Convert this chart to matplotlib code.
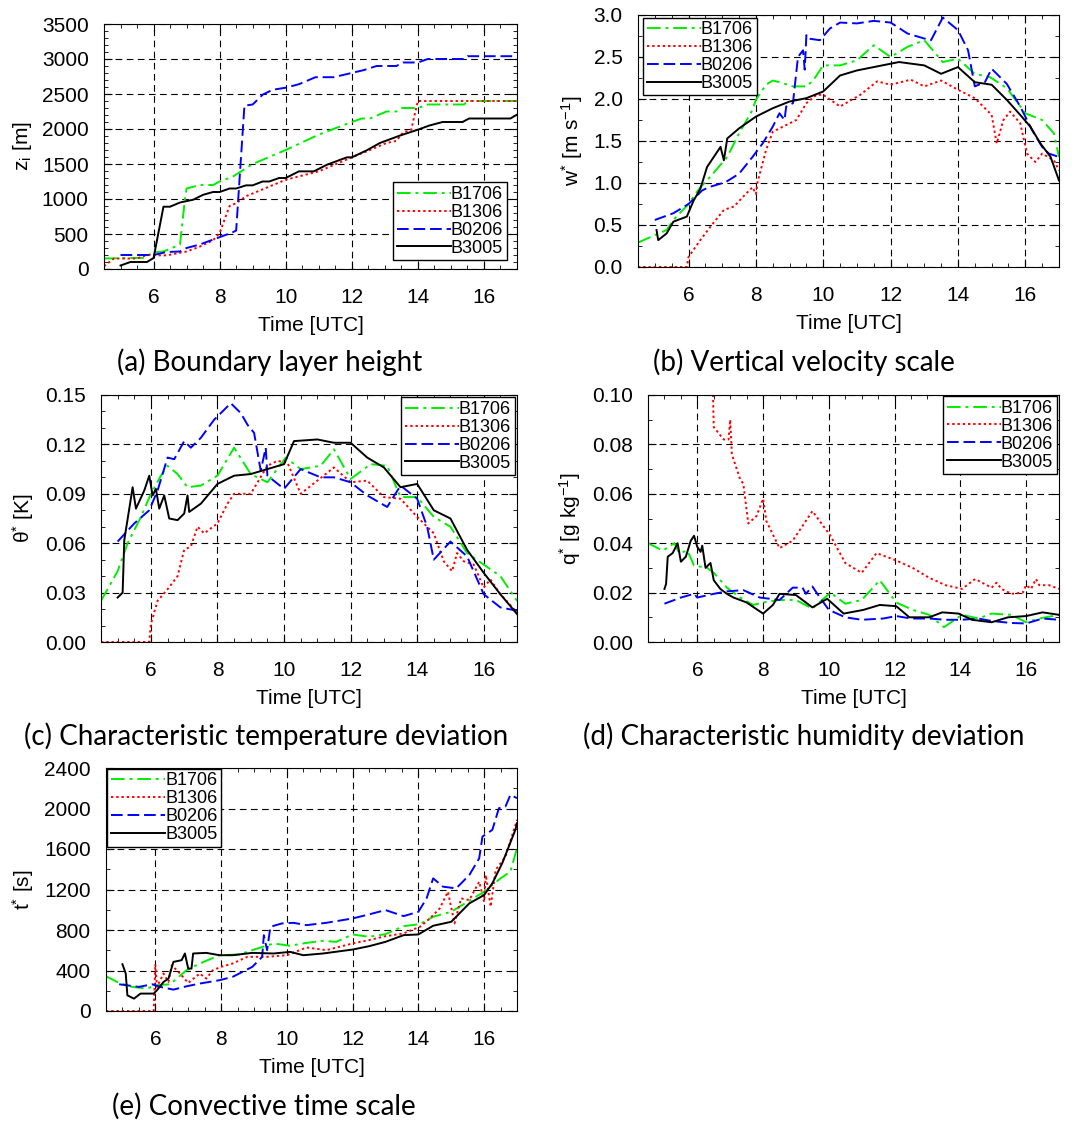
import matplotlib
matplotlib.use('Agg')
import matplotlib.pyplot as plt
from matplotlib.ticker import MultipleLocator, FormatStrFormatter

plt.rcParams['font.family'] = ['Liberation Sans', 'DejaVu Sans']
plt.rcParams['mathtext.default'] = 'regular'

# ---- (a) boundary layer height z_i [m]
zi_b1706_t = [4.5, 5.7, 6.0, 6.3, 6.55, 6.8, 6.95, 7.0, 7.4, 7.8, 8.0, 8.4, 8.8, 9.0, 10.0, 11.0, 12.0, 12.3, 12.55, 13.05, 13.35, 13.5, 14.0, 14.3, 15.4, 15.5, 17.0]
zi_b1706 = [150, 160, 240, 250, 300, 350, 1000, 1150, 1200, 1200, 1250, 1320, 1440, 1500, 1700, 1920, 2100, 2150, 2150, 2250, 2250, 2300, 2300, 2350, 2350, 2400, 2400]
zi_b1306_t = [4.5, 4.8, 5.5, 5.8, 6.0, 6.4, 7.0, 7.4, 7.8, 8.0, 8.3, 8.5, 8.8, 10.0, 11.0, 12.0, 12.45, 13.05, 13.35, 13.55, 13.8, 13.9, 14.0, 17.0]
zi_b1306 = [40, 150, 150, 200, 195, 195, 250, 320, 410, 515, 900, 940, 1040, 1275, 1395, 1595, 1680, 1800, 1830, 1950, 1990, 2200, 2400, 2400]
zi_b0206_t = [5.0, 6.0, 6.4, 6.8, 7.0, 7.4, 7.8, 8.4, 8.5, 8.75, 9.0, 9.3, 9.6, 10.0, 10.4, 10.9, 11.45, 11.9, 12.35, 12.75, 13.35, 13.55, 14.0, 14.3, 15.4, 15.5, 17.0]
zi_b0206 = [200, 200, 243, 250, 300, 350, 420, 525, 550, 2333, 2350, 2490, 2560, 2590, 2640, 2740, 2740, 2790, 2840, 2900, 2900, 2950, 2950, 3000, 3000, 3040, 3040]
zi_b3005_t = [5.0, 5.3, 5.8, 6.0, 6.3, 6.5, 6.8, 7.2, 7.5, 7.8, 8.0, 8.3, 8.5, 8.8, 9.0, 9.3, 9.5, 9.8, 10.0, 10.4, 10.85, 11.25, 11.85, 12.0, 12.45, 12.85, 13.45, 14.0, 14.35, 14.75, 15.35, 15.55, 16.8, 17.0]
zi_b3005 = [50, 100, 100, 157, 890, 890, 950, 990, 1060, 1100, 1100, 1150, 1150, 1195, 1195, 1250, 1250, 1300, 1300, 1395, 1395, 1490, 1595, 1595, 1695, 1800, 1905, 1990, 2050, 2100, 2100, 2150, 2150, 2205]

# ---- (b) vertical velocity scale w* [m s-1]
w_b1706_t = [4.5, 5.0, 5.35, 5.55, 6.0, 6.35, 6.55, 7.15, 7.5, 7.9, 8.0, 8.3, 8.5, 8.7, 9.1, 9.5, 9.7, 10.0, 10.5, 11.0, 11.5, 12.0, 12.5, 13.0, 13.55, 14.0, 14.5, 14.95, 15.45, 16.0, 16.5, 16.85, 17.0]
w_b1706 = [0.29, 0.38, 0.44, 0.56, 0.75, 0.95, 1.03, 1.31, 1.59, 1.87, 1.99, 2.17, 2.22, 2.20, 2.15, 2.15, 2.22, 2.40, 2.40, 2.46, 2.64, 2.50, 2.62, 2.70, 2.44, 2.48, 2.30, 2.26, 2.13, 1.83, 1.75, 1.59, 1.31]
w_b1306_t = [4.5, 5.95, 6.0, 6.35, 6.65, 7.05, 7.35, 7.7, 7.9, 8.0, 8.05, 8.3, 8.5, 8.9, 9.2, 9.5, 9.8, 10.0, 10.5, 11.1, 11.6, 12.0, 12.6, 13.0, 13.5, 14.0, 14.5, 15.0, 15.15, 15.35, 15.55, 15.85, 16.05, 16.3, 16.5, 16.85, 17.0]
w_b1306 = [0.0, 0.0, 0.12, 0.32, 0.48, 0.68, 0.72, 0.87, 0.95, 0.87, 1.01, 1.39, 1.61, 1.69, 1.75, 1.95, 2.05, 2.05, 1.91, 2.05, 2.21, 2.17, 2.23, 2.15, 2.22, 2.11, 2.01, 1.81, 1.47, 1.75, 1.85, 1.71, 1.35, 1.25, 1.35, 1.27, 1.15]
w_b0206_t = [5.0, 5.55, 6.0, 6.4, 6.6, 7.1, 7.5, 7.9, 8.2, 8.5, 8.7, 8.85, 8.9, 9.1, 9.25, 9.4, 9.45, 9.5, 9.55, 9.9, 10.2, 10.5, 11.0, 11.5, 12.0, 12.5, 13.0, 13.2, 13.55, 14.0, 14.3, 14.5, 14.8, 15.0, 15.45, 15.85, 16.2, 16.5, 16.7, 17.0]
w_b0206 = [0.56, 0.64, 0.75, 0.91, 0.95, 1.01, 1.11, 1.31, 1.47, 1.67, 1.83, 1.75, 1.91, 1.95, 2.50, 2.58, 2.35, 2.76, 2.72, 2.70, 2.84, 2.91, 2.90, 2.93, 2.91, 2.78, 2.72, 2.70, 2.97, 2.82, 2.58, 2.15, 2.20, 2.36, 2.18, 1.91, 1.63, 1.43, 1.35, 1.31]
w_b3005_t = [5.05, 5.1, 5.35, 5.55, 5.95, 6.15, 6.35, 6.55, 6.75, 6.95, 7.05, 7.15, 7.5, 8.0, 8.5, 9.0, 9.5, 10.0, 10.5, 11.0, 11.5, 12.0, 12.25, 13.0, 13.5, 14.0, 14.5, 15.0, 15.45, 15.85, 16.15, 16.45, 16.75, 17.0]
w_b3005 = [0.44, 0.32, 0.40, 0.54, 0.60, 0.79, 0.93, 1.19, 1.31, 1.43, 1.27, 1.53, 1.65, 1.79, 1.89, 1.97, 2.01, 2.09, 2.28, 2.34, 2.38, 2.42, 2.44, 2.40, 2.30, 2.38, 2.20, 2.17, 1.99, 1.81, 1.67, 1.47, 1.31, 1.03]

# ---- (c) characteristic temperature deviation theta* [K]
th_b1706_t = [4.5, 5.0, 5.3, 5.7, 6.0, 6.3, 6.5, 6.8, 7.1, 7.5, 8.0, 8.5, 9.0, 9.5, 10.05, 10.5, 11.1, 11.5, 12.0, 12.6, 13.1, 13.5, 14.0, 14.5, 15.0, 15.5, 16.0, 16.5, 16.8, 17.0]
th_b1706 = [0.025, 0.043, 0.060, 0.076, 0.090, 0.101, 0.107, 0.102, 0.094, 0.095, 0.101, 0.118, 0.102, 0.097, 0.112, 0.105, 0.107, 0.117, 0.099, 0.108, 0.107, 0.088, 0.088, 0.076, 0.070, 0.054, 0.047, 0.040, 0.031, 0.025]
th_b1306_t = [4.5, 5.95, 6.0, 6.2, 6.5, 6.8, 7.0, 7.2, 7.4, 7.6, 8.0, 8.3, 8.5, 9.0, 9.5, 9.8, 10.1, 10.5, 11.0, 11.5, 12.0, 12.5, 13.0, 13.5, 14.0, 14.5, 14.8, 15.05, 15.2, 15.4, 15.7, 16.0, 16.2, 16.5, 17.0]
th_b1306 = [0.0, 0.0, 0.011, 0.025, 0.032, 0.040, 0.056, 0.058, 0.070, 0.066, 0.072, 0.084, 0.090, 0.090, 0.107, 0.110, 0.109, 0.090, 0.098, 0.106, 0.097, 0.098, 0.088, 0.087, 0.076, 0.066, 0.049, 0.043, 0.054, 0.049, 0.047, 0.033, 0.038, 0.029, 0.018]
th_b0206_t = [5.0, 5.5, 5.95, 6.2, 6.5, 6.7, 7.0, 7.2, 7.5, 7.9, 8.4, 8.7, 8.9, 9.1, 9.3, 9.45, 9.5, 10.0, 10.5, 11.1, 11.5, 12.0, 12.5, 13.1, 13.5, 14.0, 14.3, 14.5, 15.0, 15.5, 16.0, 16.5, 17.0]
th_b0206 = [0.061, 0.072, 0.080, 0.092, 0.112, 0.111, 0.122, 0.118, 0.124, 0.135, 0.145, 0.139, 0.132, 0.127, 0.104, 0.118, 0.101, 0.093, 0.105, 0.100, 0.100, 0.097, 0.089, 0.082, 0.095, 0.087, 0.070, 0.050, 0.061, 0.052, 0.029, 0.021, 0.019]
th_b3005_t = [5.0, 5.15, 5.2, 5.35, 5.45, 5.55, 5.8, 5.95, 6.05, 6.15, 6.25, 6.4, 6.55, 6.8, 7.0, 7.1, 7.15, 7.5, 8.0, 8.5, 9.0, 9.5, 10.0, 10.3, 11.0, 11.5, 12.0, 12.5, 13.0, 13.5, 14.0, 14.5, 15.0, 15.5, 16.0, 16.5, 17.0]
th_b3005 = [0.027, 0.030, 0.062, 0.081, 0.094, 0.081, 0.092, 0.101, 0.089, 0.093, 0.081, 0.089, 0.075, 0.074, 0.078, 0.089, 0.079, 0.084, 0.096, 0.101, 0.102, 0.105, 0.108, 0.122, 0.123, 0.121, 0.121, 0.112, 0.106, 0.094, 0.096, 0.080, 0.075, 0.056, 0.042, 0.029, 0.017]

# ---- (d) characteristic humidity deviation q* [g kg-1]
q_b1706_t = [4.5, 4.95, 5.3, 5.45, 5.7, 5.9, 6.3, 6.5, 6.9, 7.3, 7.7, 8.0, 8.5, 9.0, 9.5, 10.05, 10.5, 11.0, 11.55, 12.05, 12.55, 13.05, 13.5, 14.05, 14.55, 14.95, 15.55, 16.0, 16.4, 17.0]
q_b1706 = [0.040, 0.037, 0.040, 0.036, 0.037, 0.031, 0.030, 0.028, 0.022, 0.018, 0.015, 0.016, 0.017, 0.017, 0.0135, 0.020, 0.0155, 0.017, 0.025, 0.016, 0.013, 0.011, 0.006, 0.011, 0.0095, 0.0115, 0.011, 0.008, 0.0095, 0.011]
q_b1306_t = [6.45, 6.5, 6.8, 6.95, 7.0, 7.05, 7.3, 7.4, 7.55, 7.8, 8.0, 8.1, 8.5, 8.9, 9.5, 10.05, 10.5, 11.0, 11.45, 12.05, 12.55, 13.05, 13.55, 14.05, 14.45, 14.95, 15.1, 15.25, 15.55, 15.9, 16.0, 16.15, 16.3, 16.4, 16.7, 17.0]
q_b1306 = [0.115, 0.087, 0.082, 0.082, 0.090, 0.076, 0.066, 0.064, 0.048, 0.051, 0.058, 0.049, 0.038, 0.041, 0.053, 0.043, 0.032, 0.028, 0.036, 0.033, 0.030, 0.026, 0.023, 0.0215, 0.0255, 0.022, 0.024, 0.0215, 0.0195, 0.020, 0.023, 0.0215, 0.0255, 0.023, 0.023, 0.0215]
q_b0206_t = [5.0, 5.5, 5.9, 6.0, 6.5, 6.9, 7.4, 7.9, 8.5, 8.9, 9.2, 9.3, 9.5, 9.65, 10.0, 10.5, 11.0, 11.65, 12.05, 12.5, 13.05, 13.55, 14.05, 14.55, 14.95, 15.55, 16.0, 16.5, 17.0]
q_b0206 = [0.0155, 0.018, 0.0195, 0.018, 0.0195, 0.0205, 0.021, 0.018, 0.017, 0.022, 0.022, 0.0195, 0.0225, 0.0195, 0.013, 0.010, 0.009, 0.0095, 0.0105, 0.0095, 0.0095, 0.009, 0.009, 0.0095, 0.0085, 0.0077, 0.0075, 0.0095, 0.009]
q_b3005_t = [5.0, 5.05, 5.1, 5.25, 5.4, 5.5, 5.65, 5.8, 5.9, 6.0, 6.1, 6.15, 6.25, 6.4, 6.5, 6.7, 6.9, 7.1, 7.5, 8.0, 8.3, 8.5, 9.0, 9.5, 9.95, 10.45, 11.05, 11.55, 12.05, 12.45, 13.05, 13.45, 13.95, 14.35, 14.95, 15.45, 16.0, 16.5, 17.0]
q_b3005 = [0.0215, 0.0235, 0.0345, 0.036, 0.040, 0.0325, 0.0345, 0.041, 0.043, 0.0385, 0.0365, 0.039, 0.030, 0.032, 0.025, 0.0215, 0.0195, 0.018, 0.016, 0.0115, 0.015, 0.0195, 0.019, 0.014, 0.0175, 0.0115, 0.013, 0.015, 0.0145, 0.010, 0.010, 0.012, 0.0115, 0.009, 0.008, 0.010, 0.0105, 0.012, 0.011]

# ---- (e) convective time scale t* [s]
ts_b1706_t = [4.5, 4.9, 5.3, 5.75, 6.0, 6.45, 6.95, 7.35, 7.95, 8.55, 9.1, 9.6, 10.1, 10.6, 11.1, 11.5, 12.0, 12.5, 13.0, 13.55, 14.05, 14.45, 15.0, 15.5, 16.0, 16.5, 16.8, 17.0]
ts_b1706 = [343, 277, 238, 221, 254, 264, 403, 469, 551, 558, 617, 667, 644, 673, 693, 683, 756, 733, 759, 838, 858, 931, 980, 1079, 1178, 1310, 1376, 1607]
ts_b1306_t = [4.5, 5.95, 6.0, 6.05, 6.25, 6.4, 6.5, 6.75, 7.0, 7.35, 7.55, 7.75, 8.0, 8.35, 8.8, 9.4, 10.0, 10.6, 11.2, 12.0, 12.5, 13.0, 13.55, 14.05, 14.35, 14.65, 14.9, 15.1, 15.3, 15.55, 15.85, 16.0, 16.05, 16.2, 16.35, 16.65, 17.0]
ts_b1306 = [0, 0, 462, 238, 370, 287, 452, 370, 277, 370, 320, 403, 436, 469, 535, 535, 551, 627, 601, 667, 700, 739, 766, 832, 914, 1013, 1178, 865, 1112, 1096, 1277, 1079, 1343, 1030, 1393, 1525, 1888]
ts_b0206_t = [4.9, 5.5, 5.9, 6.15, 6.55, 6.95, 7.35, 7.95, 8.35, 8.75, 8.95, 9.25, 9.3, 9.4, 9.5, 9.85, 10.2, 10.6, 11.2, 12.0, 12.5, 13.0, 13.55, 14.0, 14.25, 14.45, 14.75, 15.15, 15.55, 15.85, 15.95, 16.25, 16.45, 16.65, 16.8, 17.0]
ts_b0206 = [264, 238, 264, 238, 211, 244, 271, 304, 337, 403, 436, 535, 749, 601, 832, 865, 871, 848, 871, 914, 954, 997, 937, 980, 1112, 1310, 1228, 1211, 1343, 1508, 1723, 1789, 2003, 2020, 2135, 2102]
ts_b3005_t = [5.0, 5.1, 5.15, 5.35, 5.55, 5.95, 6.05, 6.25, 6.4, 6.55, 6.8, 6.9, 7.0, 7.1, 7.15, 7.55, 7.95, 8.35, 8.95, 9.6, 10.1, 10.5, 11.1, 12.0, 12.5, 13.0, 13.55, 14.0, 14.45, 15.0, 15.25, 15.55, 16.0, 16.25, 16.55, 16.75, 16.95, 17.0]
ts_b3005 = [462, 370, 155, 122, 172, 172, 205, 287, 320, 485, 502, 568, 419, 419, 568, 574, 551, 551, 574, 568, 584, 551, 568, 607, 640, 683, 749, 756, 842, 881, 964, 1063, 1145, 1261, 1459, 1624, 1789, 1855]

names = ['B1706', 'B1306', 'B0206', 'B3005']
colors = ['#00ee00', '#ff0000', '#0000ff', 'black']
styles = [(0, (7, 2.5, 1.5, 2.5)), (0, (1.2, 1.5)), (0, (6, 2.5)), '-']

W, H = 1077, 1124
fig = plt.figure(figsize=(W / 100, H / 100), dpi=100)


def px_axes(l, r, t, b):
    return fig.add_axes([l / W, 1 - b / H, (r - l) / W, (b - t) / H])


def panel(ax, series, ymax, ymaj, ymin, fmt, ylabel, leg_loc, leg_anchor):
    for (t, v), name, c, ls in zip(series, names, colors, styles):
        ax.plot(t, v, color=c, ls=ls, lw=1.4, label=name)
    ax.set_xlim(4.5, 17)
    ax.set_ylim(0, ymax)
    ax.xaxis.set_major_locator(MultipleLocator(2))
    ax.xaxis.set_minor_locator(MultipleLocator(0.5))
    ax.yaxis.set_major_locator(MultipleLocator(ymaj))
    ax.yaxis.set_minor_locator(MultipleLocator(ymin))
    ax.yaxis.set_major_formatter(FormatStrFormatter(fmt))
    ax.tick_params(which='both', direction='in', top=True, right=True, labelsize=15)
    ax.tick_params(axis='x', which='major', pad=14)
    ax.tick_params(axis='y', which='major', pad=11)
    ax.tick_params(which='major', length=6)
    ax.tick_params(which='minor', length=3)
    ax.grid(True, which='major', color='black', ls=(0, (6, 4)), lw=0.8)
    ax.set_axisbelow(True)
    ax.set_xlabel('Time [UTC]', fontsize=15, labelpad=6)
    ax.set_ylabel(ylabel, fontsize=15, labelpad=6)
    leg = ax.legend(loc=leg_loc, bbox_to_anchor=leg_anchor, fontsize=13, frameon=True, fancybox=False,
                    framealpha=1, edgecolor='black', handlelength=3.0, handletextpad=0.0,
                    labelspacing=0.05, borderpad=0.2, borderaxespad=0.0)
    leg.get_frame().set_linewidth(1.0)


ax_a = px_axes(104, 517, 24, 269)
panel(ax_a, [(zi_b1706_t, zi_b1706), (zi_b1306_t, zi_b1306), (zi_b0206_t, zi_b0206), (zi_b3005_t, zi_b3005)],
      3500, 500, 100, '%d', '$z_i$ [m]', 'lower right', (0.975, 0.035))

ax_b = px_axes(638, 1059, 15, 267)
panel(ax_b, [(w_b1706_t, w_b1706), (w_b1306_t, w_b1306), (w_b0206_t, w_b0206), (w_b3005_t, w_b3005)],
      3.0, 0.5, 0.25, '%.1f', 'w$^{*}$ [m s$^{-1}$]', 'upper left', (0.012, 0.99))

ax_c = px_axes(101, 517, 395, 642)
panel(ax_c, [(th_b1706_t, th_b1706), (th_b1306_t, th_b1306), (th_b0206_t, th_b0206), (th_b3005_t, th_b3005)],
      0.15, 0.03, 0.01, '%.2f', 'θ$^{*}$ [K]', 'upper right', (0.995, 0.99))

ax_d = px_axes(648, 1059, 395, 642)
panel(ax_d, [(q_b1706_t, q_b1706), (q_b1306_t, q_b1306), (q_b0206_t, q_b0206), (q_b3005_t, q_b3005)],
      0.10, 0.02, 0.01, '%.2f', 'q$^{*}$ [g kg$^{-1}$]', 'upper right', (0.995, 0.995))

ax_e = px_axes(106, 517, 768, 1011)
panel(ax_e, [(ts_b1706_t, ts_b1706), (ts_b1306_t, ts_b1306), (ts_b0206_t, ts_b0206), (ts_b3005_t, ts_b3005)],
      2400, 400, 200, '%d', 't$^{*}$ [s]', 'upper left', (0.003, 0.997))

# sub-captions
cap_font = dict(fontsize=20, family=['Lato', 'DejaVu Sans'], ha='center', va='center')
fig.text(270 / W, 1 - 362 / H, '(a) Boundary layer height', **cap_font)
fig.text(804 / W, 1 - 362 / H, '(b) Vertical velocity scale', **cap_font)
fig.text(266 / W, 1 - 736 / H, '(c) Characteristic temperature deviation', **cap_font)
fig.text(804 / W, 1 - 736 / H, '(d) Characteristic humidity deviation', **cap_font)
fig.text(264 / W, 1 - 1106 / H, '(e) Convective time scale', **cap_font)

fig.savefig('out.png', dpi=100)
